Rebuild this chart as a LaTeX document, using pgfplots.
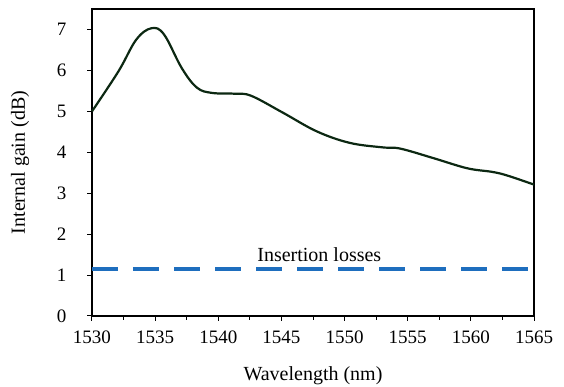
\documentclass[border=0pt]{standalone}
\usepackage{pgfplots}
\pgfplotsset{compat=1.18}
\usepackage{fontspec}
\setmainfont{Liberation Serif}
\definecolor{gaincol}{RGB}{12,40,18}
\definecolor{losscol}{RGB}{30,110,190}
\begin{document}
\begin{tikzpicture}
\fontsize{19}{22}\selectfont
\begin{axis}[
  at={(0pt,0pt)}, anchor=south west,
  scale only axis, width=442pt, height=307pt,
  xmin=1530, xmax=1565, ymin=0, ymax=7.5,
  xtick={1530,1535,...,1565}, ytick={0,1,...,7},
  minor x tick num=1,
  tick align=outside, tickpos=left,
  major tick length=5pt, minor tick length=4pt,
  every tick/.style={black, line width=1pt},
  axis line style={line width=1.2pt},
  /pgf/number format/assume math mode=true,
  /pgf/number format/1000 sep={},
  tick label style={font=\fontsize{19}{22}\selectfont},
  xticklabel style={yshift=-3pt},
  yticklabel style={xshift=-14pt},
  xlabel={Wavelength (nm)}, ylabel={Internal gain (dB)},
  label style={font=\fontsize{20}{24}\selectfont},
  xlabel style={at={(rel axis cs:0.5,0)}, anchor=center, yshift=-60pt},
  ylabel style={at={(rel axis cs:0,0.5)}, anchor=center, yshift=72pt},
  clip=false,
]
\addplot[gaincol, line width=2.2pt, smooth, tension=0.6] coordinates {
(1530,5.0) (1532.1,5.98) (1533.5,6.75) (1534.7,7.03) (1535.7,6.88)
(1537.1,6.06) (1538.3,5.58) (1539.5,5.45) (1541.3,5.43) (1542.6,5.38)
(1545.1,4.97) (1547.8,4.51) (1550.4,4.23) (1553,4.12) (1554.4,4.09)
(1557,3.86) (1559.7,3.61) (1561.7,3.52) (1562.9,3.43) (1565,3.21)
};
\addplot[losscol, line width=4pt, dash pattern=on 26pt off 15pt] coordinates {(1530,1.14) (1565,1.14)};
\node[font=\fontsize{20}{24}\selectfont] at (axis cs:1548,1.5) {Insertion losses};
\end{axis}
\pgfresetboundingbox
\path (-92pt,-71pt) rectangle (472pt,316pt);
\end{tikzpicture}
\end{document}
